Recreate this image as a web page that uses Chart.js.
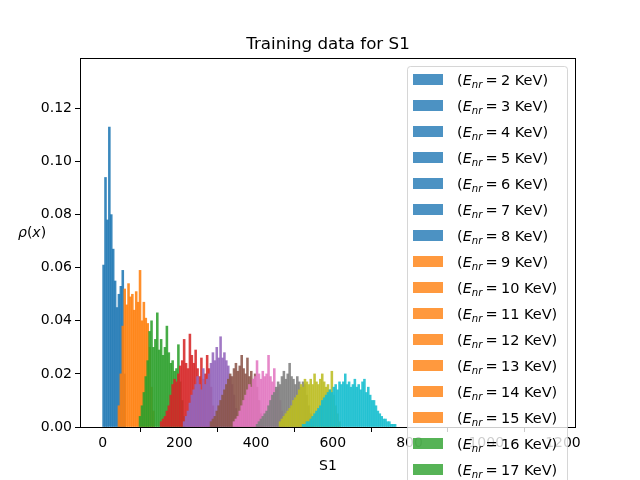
<!DOCTYPE html>
<html>
<head>
<meta charset="utf-8">
<script src="https://cdn.jsdelivr.net/npm/chart.js@4.4.1/dist/chart.umd.min.js"></script>
<style>
  html, body { margin: 0; padding: 0; background: #fff; }
</style>
</head>
<body>
<canvas id="chart" width="640" height="480"></canvas>
<script>
// histogram bins, S1 units
const binWidth = 5

// first bin edge of each energy group (S1)
const groupStarts = [0, 40, 95, 150, 210, 280, 340, 400, 460, 520]

// bin heights, rho(x), one list per colour group
const blueHeights = [0.061, 0.094, 0.078, 0.113, 0.080, 0.067, 0.055, 0.045, 0.050, 0.053, 0.059, 0.020]
const orangeHeights = [0.008, 0.020, 0.038, 0.052, 0.046, 0.054, 0.049, 0.050, 0.044, 0.051, 0.047, 0.059, 0.040, 0.047, 0.041, 0.039, 0.030, 0.015, 0.006]
const greenHeights = [0.004, 0.008, 0.013, 0.019, 0.025, 0.036, 0.040, 0.030, 0.033, 0.043, 0.029, 0.033, 0.027, 0.030, 0.038, 0.028, 0.024, 0.025, 0.021, 0.022, 0.031, 0.017, 0.010, 0.004]
const redHeights = [0.002, 0.003, 0.004, 0.006, 0.008, 0.012, 0.016, 0.018, 0.017, 0.020, 0.023, 0.025, 0.033, 0.024, 0.022, 0.035, 0.027, 0.024, 0.029, 0.022, 0.019, 0.026, 0.018, 0.020, 0.027, 0.022, 0.015, 0.008, 0.004, 0.002]
const purpleHeights = [0.002, 0.004, 0.006, 0.009, 0.012, 0.014, 0.016, 0.019, 0.016, 0.014, 0.022, 0.016, 0.018, 0.020, 0.024, 0.028, 0.025, 0.030, 0.026, 0.034, 0.026, 0.028, 0.025, 0.023, 0.019, 0.016, 0.012, 0.007, 0.004]
const brownHeights = [0.002, 0.003, 0.004, 0.006, 0.008, 0.010, 0.012, 0.014, 0.016, 0.018, 0.020, 0.019, 0.022, 0.024, 0.021, 0.023, 0.027, 0.022, 0.020, 0.026, 0.019, 0.021, 0.018, 0.020, 0.015, 0.010, 0.005, 0.002]
const pinkHeights = [0.002, 0.003, 0.004, 0.006, 0.008, 0.010, 0.012, 0.014, 0.016, 0.015, 0.018, 0.019, 0.025, 0.020, 0.018, 0.021, 0.019, 0.020, 0.027, 0.019, 0.017, 0.022, 0.014, 0.015, 0.010, 0.006, 0.003]
const grayHeights = [0.001, 0.002, 0.003, 0.004, 0.005, 0.006, 0.008, 0.010, 0.012, 0.013, 0.015, 0.017, 0.016, 0.019, 0.021, 0.018, 0.020, 0.024, 0.019, 0.018, 0.016, 0.019, 0.017, 0.015, 0.017, 0.016, 0.012, 0.008, 0.005, 0.002]
const oliveHeights = [0.002, 0.003, 0.004, 0.005, 0.006, 0.007, 0.008, 0.010, 0.011, 0.012, 0.014, 0.016, 0.015, 0.018, 0.017, 0.016, 0.018, 0.016, 0.020, 0.017, 0.016, 0.018, 0.020, 0.017, 0.015, 0.016, 0.014, 0.021, 0.012, 0.008, 0.005, 0.002]
const cyanHeights = [0.001, 0.001, 0.002, 0.002, 0.003, 0.004, 0.005, 0.006, 0.007, 0.008, 0.010, 0.011, 0.012, 0.013, 0.014, 0.013, 0.015, 0.016, 0.014, 0.017, 0.016, 0.017, 0.020, 0.016, 0.017, 0.015, 0.016, 0.018, 0.015, 0.016, 0.014, 0.017, 0.018, 0.013, 0.015, 0.012, 0.010, 0.010, 0.008, 0.006, 0.005, 0.004, 0.003, 0.003, 0.002, 0.002, 0.001, 0.001, 0.001]

// recoil energies in the legend (KeV), seven per colour group
const groupEnergies = [
    [2, 3, 4, 5, 6, 7, 8],
    [9, 10, 11, 12, 13, 14, 15],
    [16, 17, 18, 19, 20, 21, 22],
    [23, 24, 25, 26, 27, 28, 29],
    [30, 31, 32, 33, 34, 35, 36],
    [37, 38, 39, 40, 41, 42, 43],
    [44, 45, 46, 47, 48, 49, 50],
    [51, 52, 53, 54, 55, 56, 57],
    [58, 59, 60, 61, 62, 63, 64],
    [65, 66, 67, 68, 69, 70, 71]
]

const xTickValues = [0, 200, 400, 600, 800, 1000, 1200]
const yTickValues = [0, 0.02, 0.04, 0.06, 0.08, 0.10, 0.12]

const groupHeights = [blueHeights, orangeHeights, greenHeights, redHeights, purpleHeights,
    brownHeights, pinkHeights, grayHeights, oliveHeights, cyanHeights]

// matplotlib tab10
const palette = ['31,119,180', '255,127,14', '44,160,44', '214,39,40', '148,103,189',
    '140,86,75', '227,119,194', '127,127,127', '188,189,34', '23,190,207']

const FONT = '"DejaVu Sans", "Liberation Sans", sans-serif'

const datasets = groupHeights.map((heights, i) => ({
    label: groupEnergies[i].join(','),
    data: heights.map((h, k) => ({ x: groupStarts[i] + binWidth * (k + 0.5), y: h })),
    backgroundColor: `rgba(${palette[i]}, 0.88)`,
    borderWidth: 0,
    barPercentage: 1,
    categoryPercentage: 1,
    grouped: false,
    order: groupHeights.length - i // later groups on top, like matplotlib
}))

// draws a legend label like "(E_nr = 2 KeV)" with mathtext-ish styling
function drawEnergyLabel(ctx, x, base, energy) {
    const fs = 14.5
    let cx = x
    ctx.fillStyle = '#000'
    ctx.textAlign = 'left'
    ctx.textBaseline = 'alphabetic'
    ctx.font = `${fs}px ${FONT}`
    ctx.fillText('(', cx, base)
    cx += ctx.measureText('(').width
    ctx.font = `italic ${fs}px ${FONT}`
    ctx.fillText('E', cx, base)
    cx += ctx.measureText('E').width
    ctx.font = `italic ${fs * 0.7}px ${FONT}`
    ctx.fillText('nr', cx, base + fs * 0.22)
    cx += ctx.measureText('nr').width + fs * 0.22
    ctx.font = `${fs}px ${FONT}`
    ctx.fillText('=', cx, base)
    cx += ctx.measureText('=').width + fs * 0.22
    ctx.fillText(energy + ' KeV)', cx, base)
}

const mplDecor = {
    id: 'mplDecor',
    afterDatasetsDraw(chart) {
        const { ctx, chartArea: a } = chart
        ctx.save()
        ctx.strokeStyle = '#000'
        ctx.lineWidth = 1
        ctx.strokeRect(a.left + 0.5, a.top + 0.5, a.right - a.left - 1, a.bottom - a.top)
        ctx.restore()
    },
    afterDraw(chart) {
        const { ctx, chartArea: a } = chart
        ctx.save()

        // title
        ctx.fillStyle = '#000'
        ctx.textAlign = 'center'
        ctx.textBaseline = 'alphabetic'
        ctx.font = `16.7px ${FONT}`
        ctx.fillText('Training data for S1', (a.left + a.right) / 2, 49)

        // y label, horizontal: rho(x)
        let cx = 18
        const yb = 237
        ctx.textAlign = 'left'
        ctx.font = `italic 14px ${FONT}`
        ctx.fillText('ρ', cx, yb); cx += ctx.measureText('ρ').width
        ctx.font = `14px ${FONT}`
        ctx.fillText('(', cx, yb); cx += ctx.measureText('(').width
        ctx.font = `italic 14px ${FONT}`
        ctx.fillText('x', cx, yb); cx += ctx.measureText('x').width
        ctx.font = `14px ${FONT}`
        ctx.fillText(')', cx, yb)

        // legend, overlapping the axes (framealpha 0.8)
        const lx = 407, ly = 66, lw = 160, rowH = 26
        const total = groupEnergies.flat().length
        ctx.beginPath()
        ctx.roundRect(lx + 0.5, ly + 0.5, lw, total * rowH + 20, 3)
        ctx.fillStyle = 'rgba(255,255,255,0.8)'
        ctx.fill()
        ctx.strokeStyle = 'rgba(204,204,204,0.8)'
        ctx.lineWidth = 1
        ctx.stroke()

        let row = 0
        groupEnergies.forEach((energies, g) => {
            energies.forEach(e => {
                const cy = 79.5 + row * rowH
                row++
                if (cy > 500) return
                ctx.fillStyle = `rgba(${palette[g]}, 0.8)`
                ctx.fillRect(413, cy - 5.5, 30, 11)
                drawEnergyLabel(ctx, 457, cy + 5, e)
            })
        })
        ctx.restore()
    }
}

const ctx = document.getElementById('chart').getContext('2d')

new Chart(ctx, {
    type: 'bar',
    data: { datasets },
    options: {
        responsive: false,
        animation: false,
        devicePixelRatio: 1,
        layout: { padding: { top: 58, right: 64, left: 0, bottom: 0 } },
        plugins: {
            legend: { display: false },
            title: { display: false },
            tooltip: { enabled: false }
        },
        scales: {
            x: {
                type: 'linear',
                min: -59,
                max: 1234,
                offset: false,
                afterBuildTicks: s => { s.ticks = xTickValues.map(v => ({ value: v })) },
                afterFit: s => { s.height = 53 },
                grid: { drawOnChartArea: false, drawTicks: true, tickLength: 5, color: '#000' },
                border: { display: false },
                ticks: {
                    autoSkip: false,
                    maxRotation: 0,
                    padding: 3,
                    color: '#000',
                    font: { family: FONT, size: 14 },
                    callback: v => String(v)
                },
                title: {
                    display: true,
                    text: 'S1',
                    color: '#000',
                    font: { family: FONT, size: 14 },
                    padding: { top: 0, bottom: 5 }
                }
            },
            y: {
                min: 0,
                max: 0.139,
                afterBuildTicks: s => { s.ticks = yTickValues.map(v => ({ value: v })) },
                afterFit: s => { s.width = 80 },
                grid: { drawOnChartArea: false, drawTicks: true, tickLength: 5, color: '#000' },
                border: { display: false },
                ticks: {
                    padding: 3,
                    color: '#000',
                    font: { family: FONT, size: 14 },
                    callback: v => v.toFixed(2)
                }
            }
        }
    },
    plugins: [mplDecor]
})
</script>
</body>
</html>
